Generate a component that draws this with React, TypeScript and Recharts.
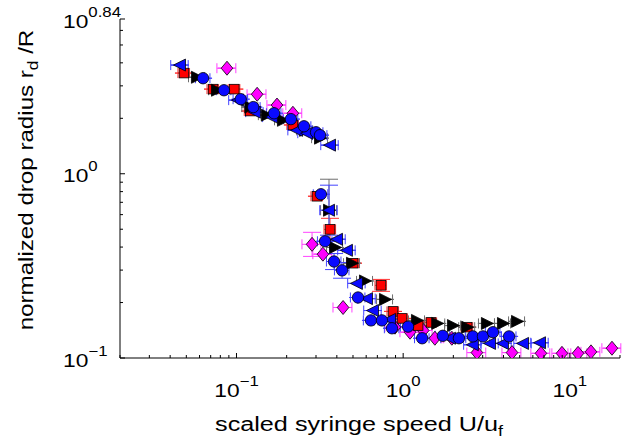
import React from 'react';
import { ScatterChart, Scatter, XAxis, YAxis, ErrorBar } from 'recharts';

// scaled syringe speed U/uf (x) vs normalized drop radius rd/R (y), one pair per data set
const redSqX = [0.0484, 0.0723, 0.097, 0.121, 0.218, 0.304, 0.364, 0.5, 0.736, 0.869, 0.984, 1.23, 1.47, 2.42];
const redSqY = [3.52, 2.88, 2.88, 2.19, 1.84, 0.755, 0.499, 0.327, 0.248, 0.179, 0.164, 0.15, 0.156, 0.147];
const redSqYErr: Record<number, [number, number]> = { 6: [0.064, 0.074], 8: [0.018, 0.019] };

const magDiaX = [0.0877, 0.133, 0.175, 0.218, 0.284, 0.33, 0.436, 0.893, 1.1, 1.32, 1.55, 1.96, 2.77, 4.5, 6.71, 8.97, 11.2, 13.4, 17.9];
const magDiaY = [3.74, 2.7, 2.36, 2.13, 0.414, 0.366, 0.188, 0.147, 0.138, 0.141, 0.128, 0.128, 0.107, 0.107, 0.106, 0.106, 0.106, 0.108, 0.113];
const magDiaYErr: Record<number, [number, number]> = { 4: [0.058, 0.067] };

const blkTriX = [0.0579, 0.0764, 0.121, 0.152, 0.19, 0.258, 0.317, 0.359, 0.39, 0.493, 0.59, 0.778, 1.21, 1.6, 1.99, 2.42, 3.18, 3.97, 4.82];
const blkTriY = [3.34, 2.84, 2.3, 2.08, 1.95, 1.72, 1.56, 0.634, 0.398, 0.327, 0.262, 0.208, 0.16, 0.154, 0.15, 0.147, 0.154, 0.154, 0.158];
const blkTriYErr: Record<number, [number, number]> = { 7: [0.204, 0.3] };

const bluTriX = [0.0458, 0.102, 0.129, 0.163, 0.231, 0.265, 0.364, 0.359, 0.401, 0.46, 0.528, 0.607, 0.659, 0.834, 1.91, 2.62, 3.32, 3.97, 5.24, 6.62];
const bluTriY = [3.89, 2.51, 2.16, 2.03, 1.72, 1.66, 1.43, 0.634, 0.441, 0.384, 0.254, 0.21, 0.181, 0.162, 0.128, 0.118, 0.12, 0.12, 0.12, 0.121];
const bluTriYErr: Record<number, [number, number]> = { 7: [0.17, 0.233] };

const bluCirX = [0.063, 0.0841, 0.106, 0.126, 0.168, 0.212, 0.254, 0.3, 0.317, 0.321, 0.34, 0.385, 0.43, 0.536, 0.641, 0.746, 0.857, 1.07, 1.3, 1.73, 2.16, 2.62, 3.01, 3.46, 4.32];
const bluCirY = [3.3, 2.84, 2.54, 2.3, 2.13, 1.98, 1.81, 1.68, 1.62, 0.774, 0.43, 0.334, 0.299, 0.213, 0.16, 0.16, 0.145, 0.148, 0.128, 0.132, 0.128, 0.131, 0.131, 0.138, 0.131];
const bluCirYErr: Record<number, [number, number]> = { 11: [0.032, 0.035], 12: [0.028, 0.031] };

// relative uncertainty of the speed for each set
const xErrFrac = { red: 0.08, mag: 0.13, blk: 0.11, bluTri: 0.12, bluCir: 0.1 };

const xTicks = [0.02, 0.03, 0.04, 0.05, 0.06, 0.07, 0.08, 0.09, 0.1, 0.2, 0.3, 0.4, 0.5, 0.6, 0.7, 0.8, 0.9, 1, 2, 3, 4, 5, 6, 7, 8, 9, 10, 20];
const yTop = Math.pow(10, 0.84);
const yTicks = [0.1, 0.2, 0.3, 0.4, 0.5, 0.6, 0.7, 0.8, 0.9, 1, 2, 3, 4, 5, 6, yTop];

const FONT = '"Liberation Sans", Arial, Helvetica, sans-serif';

const rows = (xs: number[], ys: number[], frac: number, yErr: Record<number, [number, number]>) =>
  xs.map((x, i) => ({ x, y: ys[i], ex: x * frac, ey: yErr[i] || [0, 0] }));

const isDecade = (v: number) => Math.abs(Math.log10(v) - Math.round(Math.log10(v))) < 1e-6;
const expLabel = (v: number) => {
  const e = Math.round(Math.log10(v) * 100) / 100;
  return e < 0 ? `\u2212${-e}` : `${e}`;
};

const XTick = (props: any) => {
  const { x, y, payload } = props;
  const v = payload.value;
  const major = isDecade(v);
  return (
    <g>
      <line x1={x} x2={x} y1={y} y2={y - (major ? 5 : 3)} stroke="#000" strokeWidth={1} />
      {major && v > 0.05 && v < 15 && (
        <g transform={`translate(${x},${y + 39}) scale(1.2,1)`}>
          <text x={0} y={0} textAnchor="middle" fontSize={19} fontFamily={FONT} fill="#000">
            10<tspan dy={-11} fontSize={14}>{expLabel(v)}</tspan>
          </text>
        </g>
      )}
    </g>
  );
};

const YTick = (props: any) => {
  const { x, y, payload } = props;
  const v = payload.value;
  const major = isDecade(v) || Math.abs(v - yTop) < 1e-6;
  return (
    <g>
      <line x1={x} x2={x + (major ? 5 : 3)} y1={y} y2={y} stroke="#000" strokeWidth={1} />
      {major && (
        <g transform={`translate(63,${y + 8.5}) scale(1.2,1)`}>
          <text x={0} y={0} textAnchor="start" fontSize={19} fontFamily={FONT} fill="#000">
            10<tspan dy={-11} fontSize={14}>{expLabel(v)}</tspan>
          </text>
        </g>
      )}
    </g>
  );
};

const Marker = ({ cx, cy, kind, fill }: { cx: number; cy: number; kind: string; fill: string }) => {
  const s = { fill, stroke: '#000', strokeWidth: 0.8 };
  if (kind === 'circle') return <circle cx={cx} cy={cy} r={5.7} {...s} />;
  if (kind === 'square') return <rect x={cx - 4.8} y={cy - 4.8} width={9.6} height={9.6} {...s} />;
  if (kind === 'diamond')
    return <polygon points={`${cx},${cy - 7} ${cx + 5.8},${cy} ${cx},${cy + 7} ${cx - 5.8},${cy}`} {...s} />;
  if (kind === 'left')
    return <polygon points={`${cx - 6.5},${cy} ${cx + 5.5},${cy - 6} ${cx + 5.5},${cy + 6}`} {...s} />;
  return <polygon points={`${cx + 6.5},${cy} ${cx - 5.5},${cy - 6} ${cx - 5.5},${cy + 6}`} {...s} />;
};

const series = [
  { key: 'mag', data: rows(magDiaX, magDiaY, xErrFrac.mag, magDiaYErr), kind: 'diamond', fill: '#ff00ff', bar: '#ff44ff' },
  { key: 'red', data: rows(redSqX, redSqY, xErrFrac.red, redSqYErr), kind: 'square', fill: '#ff0000', bar: '#ff3333' },
  { key: 'blk', data: rows(blkTriX, blkTriY, xErrFrac.blk, blkTriYErr), kind: 'right', fill: '#000000', bar: '#6e6e6e' },
  { key: 'bluTri', data: rows(bluTriX, bluTriY, xErrFrac.bluTri, bluTriYErr), kind: 'left', fill: '#0a0aff', bar: '#4444ff' },
  { key: 'bluCir', data: rows(bluCirX, bluCirY, xErrFrac.bluCir, bluCirYErr), kind: 'circle', fill: '#0a0aff', bar: '#4444ff' },
];

export default function App() {
  return (
    <div style={{ position: 'absolute', left: 0, top: 0, width: 631, height: 440, background: '#fff' }}>
      <ScatterChart width={631} height={440} margin={{ top: 19, right: 11, bottom: 81, left: 119 }}>
        <XAxis
          dataKey="x"
          type="number"
          scale="log"
          domain={[0.02, 20]}
          allowDataOverflow
          ticks={xTicks}
          interval={0}
          height={1}
          tickSize={0}
          tickMargin={0}
          tickLine={false}
          tick={<XTick />}
          axisLine={{ stroke: '#000', strokeWidth: 1 }}
        />
        <YAxis
          dataKey="y"
          type="number"
          scale="log"
          domain={[0.1, yTop]}
          allowDataOverflow
          ticks={yTicks}
          interval={0}
          width={1}
          tickSize={0}
          tickMargin={0}
          tickLine={false}
          tick={<YTick />}
          axisLine={{ stroke: '#000', strokeWidth: 1 }}
        />
        {series.map((s) => (
          <Scatter
            key={s.key}
            data={s.data}
            isAnimationActive={false}
            shape={(p: any) => <Marker cx={p.cx} cy={p.cy} kind={s.kind} fill={s.fill} />}
          >
            <ErrorBar dataKey="ex" direction="x" width={5} stroke={s.bar} strokeWidth={1} isAnimationActive={false} />
            <ErrorBar dataKey="ey" direction="y" width={9} stroke={s.bar} strokeWidth={1} isAnimationActive={false} />
          </Scatter>
        ))}
      </ScatterChart>
      <svg width={631} height={440} style={{ position: 'absolute', left: 0, top: 0, pointerEvents: 'none' }}>
        <g transform="translate(359,431) scale(1.2,1)">
          <text x={0} y={0} textAnchor="middle" fontSize={21} fontFamily={FONT} fill="#000">
            scaled syringe speed U/u<tspan dy={5} fontSize={15}>f</tspan>
          </text>
        </g>
        <g transform="translate(33,180) rotate(-90) scale(1.15,1)">
          <text x={0} y={0} textAnchor="middle" fontSize={21} fontFamily={FONT} fill="#000">
            normalized drop radius r<tspan dy={5} fontSize={15}>d</tspan>
            <tspan dy={-5}> /R</tspan>
          </text>
        </g>
      </svg>
    </div>
  );
}
